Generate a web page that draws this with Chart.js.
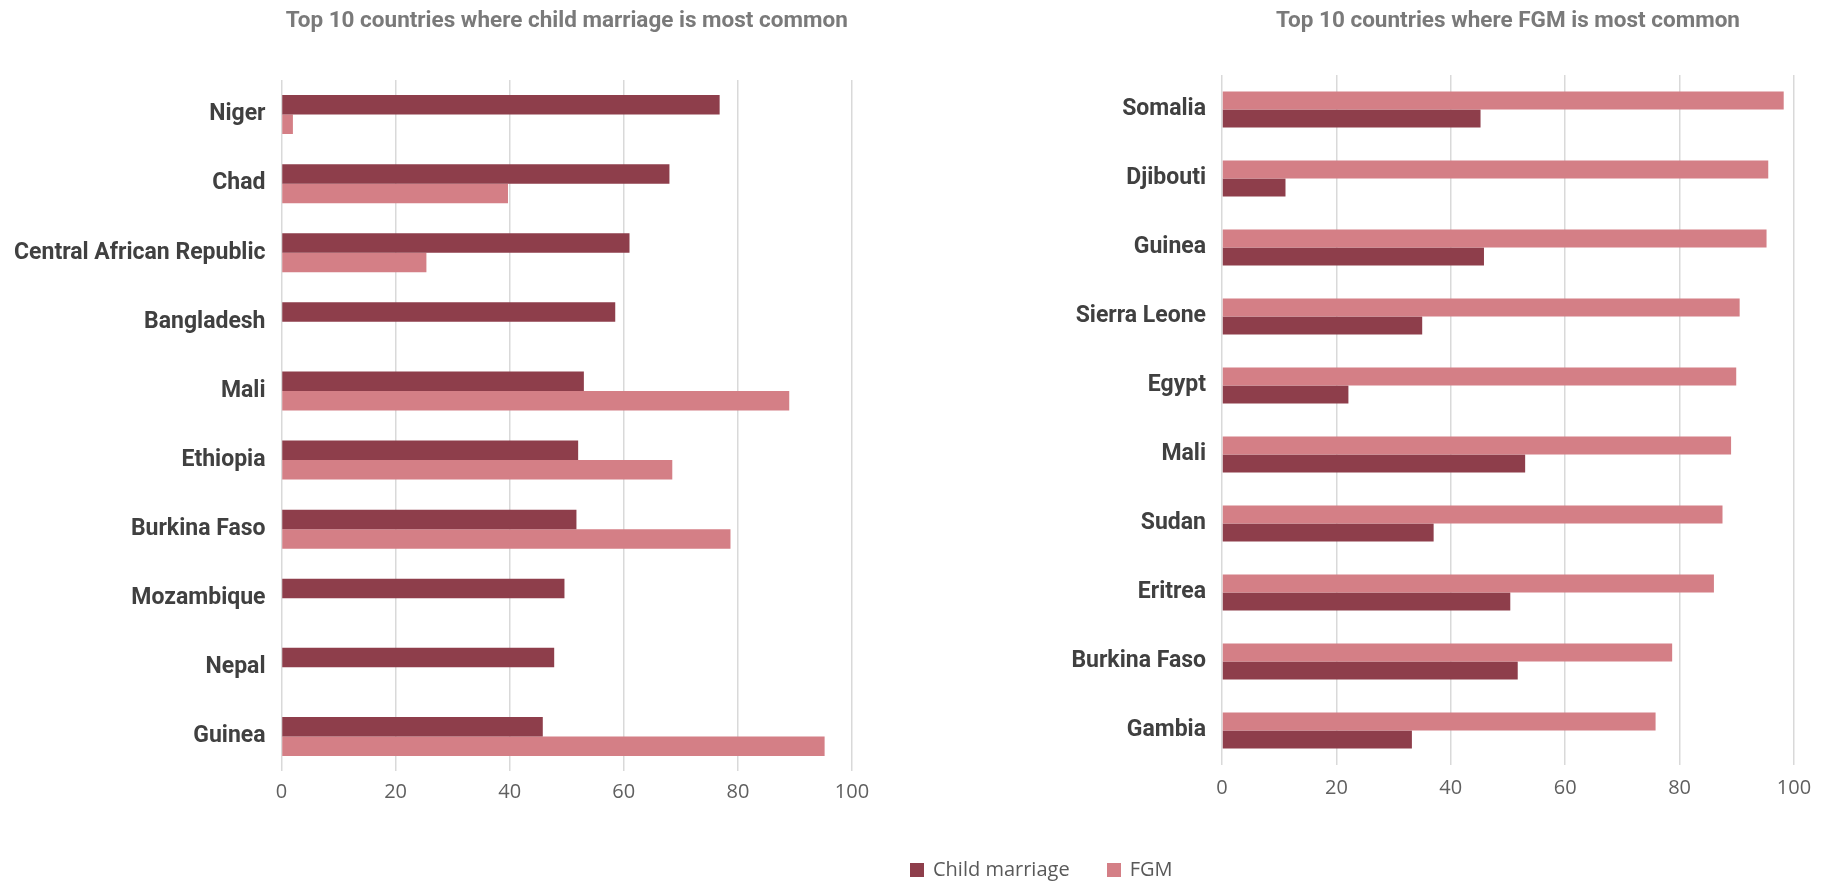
<!DOCTYPE html>
<html>
<head>
<meta charset="utf-8">
<script src="https://cdn.jsdelivr.net/npm/chart.js@4"></script>
<style>
  html,body{margin:0;padding:0;background:#fff;}
  body{width:1832px;height:881px;position:relative;overflow:hidden;}
  canvas{position:absolute;top:0;}
  #cLeft{left:0;}
  #cRight{left:900px;}
  #legend{position:absolute;left:910px;top:856px;font-family:'Open Sans';font-size:20px;color:#595959;white-space:nowrap;line-height:26px;}
  #legend span.box{display:inline-block;width:14px;height:14px;margin-right:9px;vertical-align:-1px;}
  #legend span.item{margin-right:37px;}
</style>
</head>
<body>
<canvas id="cLeft" width="900" height="881"></canvas>
<canvas id="cRight" width="932" height="881"></canvas>
<div id="legend"></div>
<script>
const DARK='#8E3E4B', LIGHT='#D47F86';

// left chart: child marriage ranking
const cmCountries=['Niger','Chad','Central African Republic','Bangladesh','Mali','Ethiopia','Burkina Faso','Mozambique','Nepal','Guinea'];
const cmChild=[76.8,68,61,58.5,53,52,51.7,49.6,47.8,45.8];
const cmFgm=[2,39.7,25.4,null,89,68.5,78.7,null,null,95.2];

// right chart: FGM ranking
const fgmCountries=['Somalia','Djibouti','Guinea','Sierra Leone','Egypt','Mali','Sudan','Eritrea','Burkina Faso','Gambia'];
const fgmFgm=[98.2,95.5,95.2,90.5,89.9,89,87.5,86,78.7,75.8];
const fgmChild=[45.2,11.1,45.8,35,22.1,53,37,50.4,51.7,33.2];

const xTicks=[0,20,40,60,80,100];
const seriesNames=['Child marriage','FGM'];

function makeChart(id,title,labels,datasets,o){
  const ctx=document.getElementById(id).getContext('2d');
  return new Chart(ctx,{
    type:'bar',
    data:{labels,datasets},
    options:{
      indexAxis:'y',
      responsive:false,
      animation:false,
      layout:{padding:{left:0,right:o.padRight,top:0,bottom:o.padBottom}},
      datasets:{bar:{categoryPercentage:o.catPct,barPercentage:1}},
      plugins:{
        legend:{display:false},
        tooltip:{enabled:false},
        title:{
          display:true,text:title,fullSize:false,
          color:'#7a7a7a',
          font:{family:'Roboto',size:22.5,weight:'bold'},
          padding:{top:8,bottom:o.titleGap}
        }
      },
      scales:{
        x:{
          min:0,max:100,
          afterBuildTicks:(a)=>{a.ticks=xTicks.map(v=>({value:v}));},
          afterFit:(a)=>{a.height=40;},
          grid:{color:'#d9d9d9',lineWidth:1.5,drawTicks:false},
          border:{display:false},
          ticks:{color:'#5f5f5f',padding:o.tickPad,font:{family:'Open Sans',size:20}}
        },
        y:{
          afterFit:(a)=>{a.width=o.yWidth;},
          grid:{display:false,drawTicks:false},
          border:{display:false},
          ticks:{color:'#404040',padding:16,font:{family:'Roboto',size:23,weight:'bold'}}
        }
      }
    }
  });
}

makeChart('cLeft','Top 10 countries where child marriage is most common',cmCountries,[
  {label:seriesNames[0],data:cmChild,backgroundColor:DARK},
  {label:seriesNames[1],data:cmFgm,backgroundColor:LIGHT}
],{padRight:48,padBottom:70,catPct:0.565,titleGap:45,tickPad:9,yWidth:281.5});

makeChart('cRight','Top 10 countries where FGM is most common',fgmCountries,[
  {label:seriesNames[1],data:fgmFgm,backgroundColor:LIGHT},
  {label:seriesNames[0],data:fgmChild,backgroundColor:DARK}
],{padRight:38,padBottom:76,catPct:0.52,titleGap:40,tickPad:11,yWidth:322});

document.getElementById('legend').innerHTML=
  `<span class="item"><span class="box" style="background:${DARK}"></span>${seriesNames[0]}</span>`+
  `<span><span class="box" style="background:${LIGHT}"></span>${seriesNames[1]}</span>`;
</script>
</body>
</html>
